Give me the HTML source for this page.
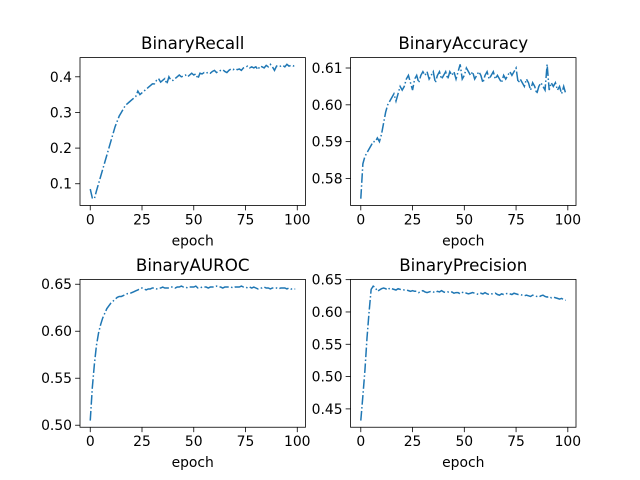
<!DOCTYPE html>
<html><head><meta charset="utf-8"><style>
body{margin:0;background:#fff}
svg{display:block;font-family:"DejaVu Sans","Liberation Sans",sans-serif}
</style></head><body>
<svg id="fig" width="640" height="480" viewBox="0 0 640 480"></svg>
<script>
const epochs = Array.from({length:100},(_,i)=>i);
const xTicks = [0,25,50,75,100];
const recallValues = [0.085,0.06,0.058,0.08,0.1,0.12,0.14,0.16,0.18,0.2,0.22,0.24,0.26,0.275,0.29,0.3,0.31,0.32,0.325,0.33,0.335,0.34,0.345,0.36,0.35,0.355,0.36,0.365,0.37,0.375,0.38,0.38,0.39,0.395,0.385,0.39,0.395,0.38,0.4,0.39,0.39,0.395,0.4,0.405,0.4,0.402,0.405,0.4,0.405,0.41,0.405,0.408,0.395,0.41,0.408,0.412,0.41,0.413,0.41,0.415,0.418,0.412,0.415,0.418,0.42,0.415,0.412,0.418,0.422,0.42,0.423,0.42,0.422,0.418,0.425,0.427,0.43,0.425,0.428,0.425,0.428,0.42,0.43,0.428,0.425,0.432,0.428,0.435,0.428,0.418,0.43,0.428,0.43,0.432,0.428,0.435,0.43,0.432,0.43,0.433];
const accuracyValues = [0.5745,0.584,0.586,0.587,0.588,0.589,0.590,0.590,0.591,0.590,0.592,0.595,0.598,0.600,0.601,0.602,0.603,0.601,0.603,0.605,0.604,0.605,0.607,0.608,0.606,0.604,0.607,0.608,0.606,0.608,0.609,0.608,0.609,0.607,0.608,0.609,0.606,0.608,0.609,0.607,0.608,0.609,0.607,0.609,0.608,0.609,0.607,0.609,0.611,0.607,0.608,0.610,0.609,0.608,0.609,0.607,0.608,0.609,0.608,0.606,0.608,0.609,0.607,0.608,0.609,0.607,0.608,0.607,0.606,0.608,0.607,0.608,0.609,0.608,0.609,0.610,0.606,0.607,0.606,0.605,0.607,0.606,0.604,0.606,0.605,0.603,0.605,0.606,0.605,0.604,0.611,0.604,0.606,0.605,0.606,0.604,0.605,0.603,0.605,0.603];
const aurocValues = [0.505,0.54,0.565,0.585,0.598,0.607,0.614,0.619,0.624,0.627,0.630,0.632,0.634,0.636,0.637,0.637,0.638,0.639,0.640,0.640,0.641,0.642,0.643,0.644,0.645,0.646,0.645,0.644,0.645,0.645,0.646,0.646,0.645,0.646,0.646,0.647,0.646,0.646,0.646,0.647,0.647,0.646,0.647,0.647,0.648,0.647,0.647,0.646,0.647,0.647,0.647,0.648,0.646,0.646,0.647,0.647,0.647,0.646,0.647,0.647,0.647,0.648,0.647,0.647,0.646,0.647,0.647,0.647,0.647,0.646,0.647,0.647,0.647,0.648,0.647,0.647,0.646,0.647,0.646,0.647,0.646,0.645,0.646,0.646,0.647,0.646,0.646,0.645,0.646,0.646,0.646,0.645,0.646,0.646,0.646,0.645,0.646,0.645,0.645,0.645];
const precisionValues = [0.432,0.47,0.51,0.56,0.60,0.635,0.64,0.638,0.632,0.634,0.636,0.637,0.636,0.634,0.637,0.636,0.635,0.634,0.636,0.635,0.635,0.634,0.634,0.633,0.632,0.633,0.632,0.632,0.630,0.632,0.633,0.631,0.630,0.631,0.632,0.631,0.630,0.632,0.631,0.633,0.631,0.630,0.631,0.630,0.631,0.629,0.630,0.630,0.628,0.630,0.631,0.629,0.628,0.629,0.630,0.629,0.628,0.627,0.629,0.628,0.630,0.628,0.627,0.628,0.628,0.629,0.627,0.626,0.628,0.627,0.628,0.629,0.628,0.627,0.629,0.628,0.627,0.627,0.626,0.625,0.626,0.625,0.624,0.626,0.625,0.624,0.623,0.625,0.626,0.624,0.623,0.624,0.622,0.623,0.622,0.621,0.620,0.621,0.619,0.618];
const recallTicks = [0.1,0.2,0.3,0.4];
const accuracyTicks = [0.58,0.59,0.60,0.61];
const aurocTicks = [0.50,0.55,0.60,0.65];
const precisionTicks = [0.45,0.50,0.55,0.60,0.65];

const NS="http://www.w3.org/2000/svg";
const svg=document.getElementById('fig');
function mk(tag,attrs,parent){const e=document.createElementNS(NS,tag);for(const k in attrs)e.setAttribute(k,attrs[k]);(parent||svg).appendChild(e);return e;}

const panels=[
 {title:'BinaryRecall',vals:recallValues,ticks:recallTicks,dec:1,x0:80,y0:57.6,slug:'recall'},
 {title:'BinaryAccuracy',vals:accuracyValues,ticks:accuracyTicks,dec:2,x0:350.55,y0:57.6,slug:'accuracy'},
 {title:'BinaryAUROC',vals:aurocValues,ticks:aurocTicks,dec:2,x0:80,y0:279.4,slug:'auroc'},
 {title:'BinaryPrecision',vals:precisionValues,ticks:precisionTicks,dec:2,x0:350.55,y0:279.4,slug:'precision'}
];
const W=225.45,H=147.84;
panels.forEach(p=>{
  const g=mk('g',{});
  
  
  const xmin=0,xmax=99,xm=(xmax-xmin)*0.05;
  const ymin=Math.min(...p.vals),ymax=Math.max(...p.vals),ym=(ymax-ymin)*0.05;
  const sx=v=>p.x0+(v-(xmin-xm))/((xmax+xm)-(xmin-xm))*W;
  const sy=v=>p.y0+H-(v-(ymin-ym))/((ymax+ym)-(ymin-ym))*H;
  const d=epochs.map((e,i)=>(i?'L':'M')+sx(e).toFixed(2)+' '+sy(p.vals[i]).toFixed(2)).join('');
  const line=mk('path',{d:d,fill:'none',stroke:'#1f77b4','stroke-width':1.5,'stroke-dasharray':'9.6 2.4 1.5 2.4'},g);
  
  
  const fr=mk('rect',{x:p.x0,y:p.y0,width:W,height:H,fill:'none',stroke:'#000','stroke-width':0.8},g);
  
  
  xTicks.forEach(t=>{
    const x=sx(t);
    mk('line',{x1:x,x2:x,y1:p.y0+H,y2:p.y0+H+4.9,stroke:'#000','stroke-width':0.8},g);
    const tx=mk('text',{x:x,y:p.y0+H+19,'font-size':'13.9px','text-anchor':'middle',fill:'#000'},g);
    tx.textContent=t;
    
    
  });
  p.ticks.forEach(t=>{
    const y=sy(t);
    mk('line',{x1:p.x0-4.9,x2:p.x0,y1:y,y2:y,stroke:'#000','stroke-width':0.8},g);
    const tx=mk('text',{x:p.x0-8,y:y+5,'font-size':'13.9px','text-anchor':'end',fill:'#000'},g);
    tx.textContent=t.toFixed(p.dec);
    
    
  });
  const xl=mk('text',{x:p.x0+W/2,y:p.y0+H+40,'font-size':'13.9px','text-anchor':'middle',fill:'#000'},g);
  xl.textContent='epoch';
  
  
  const tt=mk('text',{x:p.x0+W/2,y:p.y0-8.5,'font-size':'16.7px','text-anchor':'middle',fill:'#000'},g);
  tt.textContent=p.title;
  
  
});
</script>
</body></html>
